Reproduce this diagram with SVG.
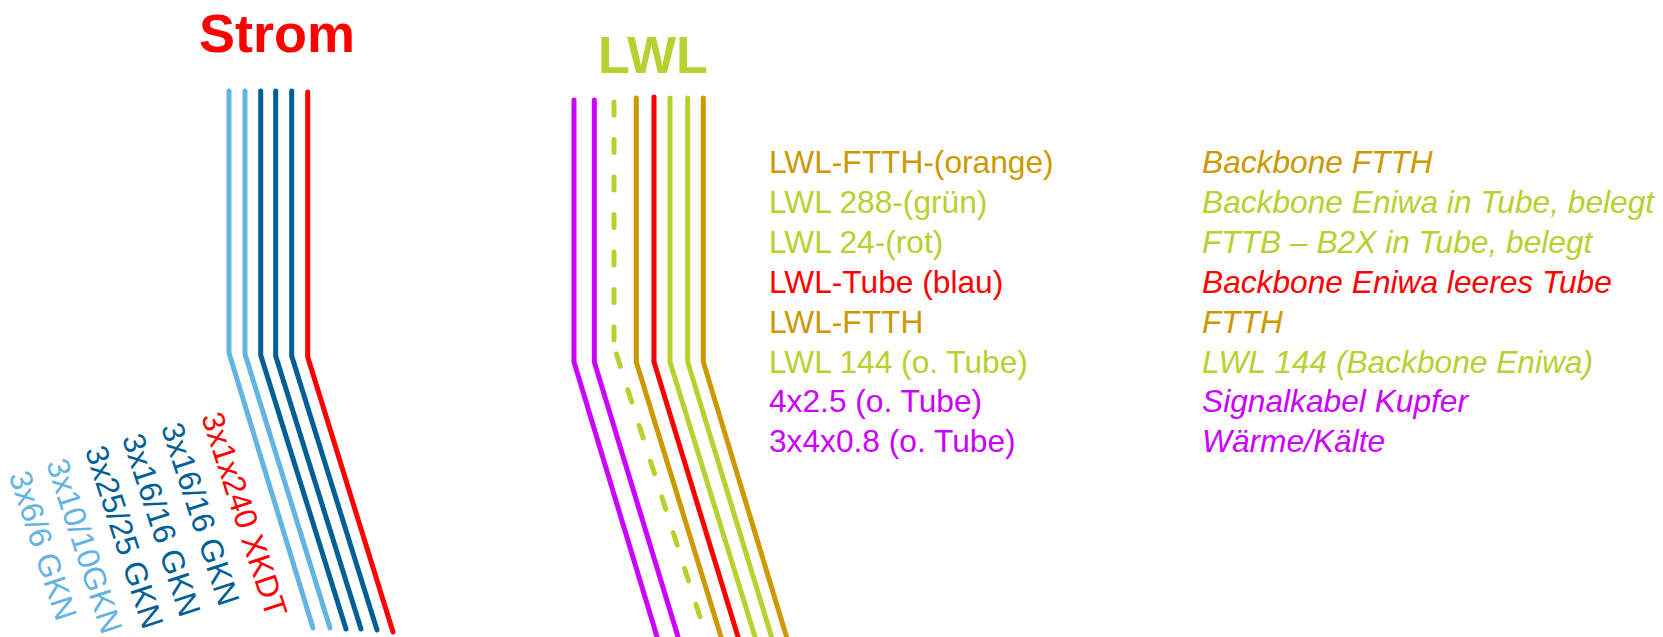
<svg xmlns="http://www.w3.org/2000/svg" width="1663" height="637" viewBox="0 0 1663 637">
<style>
.ln{fill:none;stroke-width:5;stroke-linecap:round;stroke-linejoin:miter}
.lb{stroke:#63B3E3}.db{stroke:#005F96}.rd{stroke:#FF0000}.pu{stroke:#CC00FF}.gr{stroke:#B8D030}.or{stroke:#CC9900}
.dash{stroke-dasharray:13 24.5}
text{font-family:"Liberation Sans",Arial,sans-serif;font-size:31.7px}
.title{font-weight:bold;font-size:54px}
.it{font-style:italic}
.tlb{fill:#63B3E3}.tdb{fill:#005F96}.trd{fill:#FF0000}.tpu{fill:#CC00FF}.tgr{fill:#B8D030}.tor{fill:#CC9900}
</style>
<rect width="1663" height="637" fill="#FFFFFF"/>
<g id="titles">
<text class="title trd" x="199" y="51.5">Strom</text>
<text class="title tgr" x="598" y="73" style="font-size:52px">LWL</text>
</g>
<g id="connectors">
<path class="ln lb" d="M229 91 V353 L313 628"/>
<path class="ln lb" d="M245 91 V354 L330 628"/>
<path class="ln db" d="M260.7 91 V355 L346 629"/>
<path class="ln db" d="M275.7 91 V356 L361 629"/>
<path class="ln db" d="M291.7 91 V356 L377 630"/>
<path class="ln rd" d="M307.7 92 V357 L393 632"/>
<path class="ln pu" d="M574 100 V362 L658 640"/>
<path class="ln pu" d="M594.3 100 V362 L679 640"/>
<path class="ln gr dash" d="M614 102 V341"/>
<path class="ln gr dash" d="M616.5 354 L700 617"/>
<path class="ln or" d="M636.3 98 V362 L722 640"/>
<path class="ln rd" d="M654 97 V362 L739 640"/>
<path class="ln gr" d="M670 98 V362 L756 640"/>
<path class="ln gr" d="M687.7 98 V362 L772.5 640"/>
<path class="ln or" d="M703.3 98 V362 L787.5 640"/>
</g>
<g id="strom-labels">
<text class="tlb" text-anchor="middle" y="11" transform="translate(43 545.5) rotate(72)">3x6/6 GKN</text>
<text class="tlb" text-anchor="middle" y="11" transform="translate(84.5 546) rotate(72)">3x10/10GKN</text>
<text class="tdb" text-anchor="middle" y="11" transform="translate(124.5 537) rotate(72)">3x25/25 GKN</text>
<text class="tdb" text-anchor="middle" y="11" transform="translate(161.5 525) rotate(72)">3x16/16 GKN</text>
<text class="tdb" text-anchor="middle" y="11" transform="translate(200.5 514) rotate(72)">3x16/16 GKN</text>
<text class="trd" text-anchor="middle" y="11" transform="translate(244.5 514.5) rotate(72)">3x1x240 XKDT</text>
</g>
<g id="lwl-legend">
<text class="tor" x="769" y="173.3">LWL-FTTH-(orange)</text>
<text class="tgr" x="769" y="213.2">LWL 288-(grün)</text>
<text class="tgr" x="769" y="253">LWL 24-(rot)</text>
<text class="trd" x="769" y="292.9">LWL-Tube (blau)</text>
<text class="tor" x="769" y="332.7">LWL-FTTH</text>
<text class="tgr" x="769" y="372.6">LWL 144 (o. Tube)</text>
<text class="tpu" x="769" y="412.4">4x2.5 (o. Tube)</text>
<text class="tpu" x="769" y="452.3">3x4x0.8 (o. Tube)</text>
</g>
<g id="lwl-descriptions">
<text class="it tor" x="1202" y="173.3">Backbone FTTH</text>
<text class="it tgr" x="1202" y="213.2">Backbone Eniwa in Tube, belegt</text>
<text class="it tgr" x="1202" y="253">FTTB – B2X in Tube, belegt</text>
<text class="it trd" x="1202" y="292.9">Backbone Eniwa leeres Tube</text>
<text class="it tor" x="1202" y="332.7">FTTH</text>
<text class="it tgr" x="1202" y="372.6">LWL 144 (Backbone Eniwa)</text>
<text class="it tpu" x="1202" y="412.4">Signalkabel Kupfer</text>
<text class="it tpu" x="1202" y="452.3">Wärme/Kälte</text>
</g>
</svg>
